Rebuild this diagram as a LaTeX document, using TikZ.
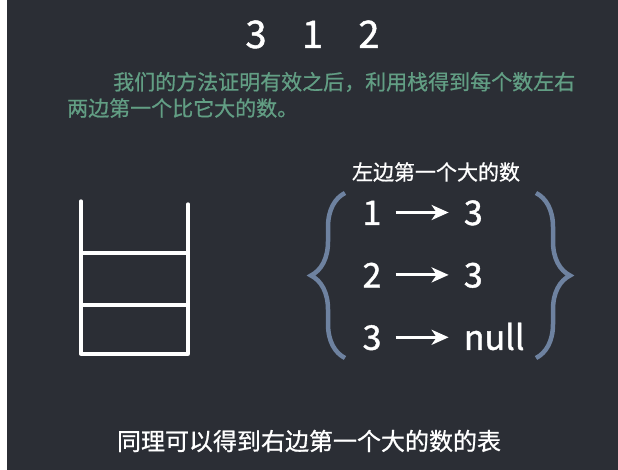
\documentclass[tikz,border=0pt]{standalone}
\usepackage{fontspec}
\setmainfont{Noto Sans CJK SC}
\newfontfamily\heavy[FakeBold=1.2]{Noto Sans CJK SC}
\newfontfamily\medium[FakeBold=0.8]{Noto Sans CJK SC}
\usepackage{tikz}
\usetikzlibrary{arrows.meta,positioning,decorations.pathreplacing}
\definecolor{slide}{RGB}{43,46,53}
\definecolor{note}{RGB}{98,158,132}
\definecolor{bracecol}{RGB}{110,130,160}
\tikzset{
    %Define standard arrow tip
    >={Stealth[length=17pt,width=15pt,inset=5pt]},
    %Define style for numbers
    big/.style={
           text=white,
           inner sep=0pt,
           text height=28pt,
           text depth=0pt,
           font=\heavy\fontsize{38}{40}\selectfont},
    num/.style={
           text=white,
           inner sep=0pt,
           text height=25pt,
           text depth=0pt,
           font=\heavy\fontsize{34}{36}\selectfont},
    %Define style for texts
    notetext/.style={
           text=note,
           inner sep=0pt,
           anchor=west,
           font=\medium\fontsize{21}{24}\selectfont},
    caption/.style={
           text=white,
           inner sep=0pt,
           font=\medium\fontsize{#1}{#1}\selectfont},
    % Define arrow style
    pil/.style={
           ->,
           white,
           line width=3pt,
           shorten <=14pt,
           shorten >=15pt},
    stk/.style={white, line width=3.3pt, line cap=round, line join=round},
    brc/.style={bracecol, line width=4.5pt, decorate,
           decoration={brace,amplitude=34pt}}
}
\begin{document}
\begin{tikzpicture}[x=1pt,y=-1pt,node distance=35pt]
\useasboundingbox (0,0) rectangle (618,470);
\fill[slide] (0,0) rectangle (618,470);
\fill[white] (0,0) rectangle (7,470);
% sequence
\node[big] (n3) at (256,34) {3};
\node[big, right=of n3] (n1) {1};
\node[big, right=of n1] (n2) {2};
% explanation
\node[notetext] (line1) at (113,82) {我们的方法证明有效之后，利用栈得到每个数左右};
\node[notetext] (line2) at (67,108) {两边第一个比它大的数。};
% stack
\draw[stk] (81,201) -- (81,354) -- (188,354) -- (188,204);
\draw[stk] (81,253) -- (188,253);
\draw[stk] (81,305) -- (188,305);
% table
\node[caption=21] (title) at (436,172) {左边第一个大的数};
\node[num] (l1) at (372,212.5) {1};
\node[num, below=37pt of l1] (l2) {2};
\node[num, below=37pt of l2] (l3) {3};
\node[num, right=82pt of l1] (r1) {3};
\node[num, right=82pt of l2] (r2) {3};
\node[num, right=82pt of l3] (r3) {null};
\path
    (l1) edge[pil] (r1)
    (l2) edge[pil] (r2)
    (l3) edge[pil] (r3);
\draw[brc] (345,358) -- (345,193);
\draw[brc] (536,193) -- (536,358);
\node[caption=24] (bottom) at (309,441) {同理可以得到右边第一个大的数的表};
\end{tikzpicture}
\end{document}
